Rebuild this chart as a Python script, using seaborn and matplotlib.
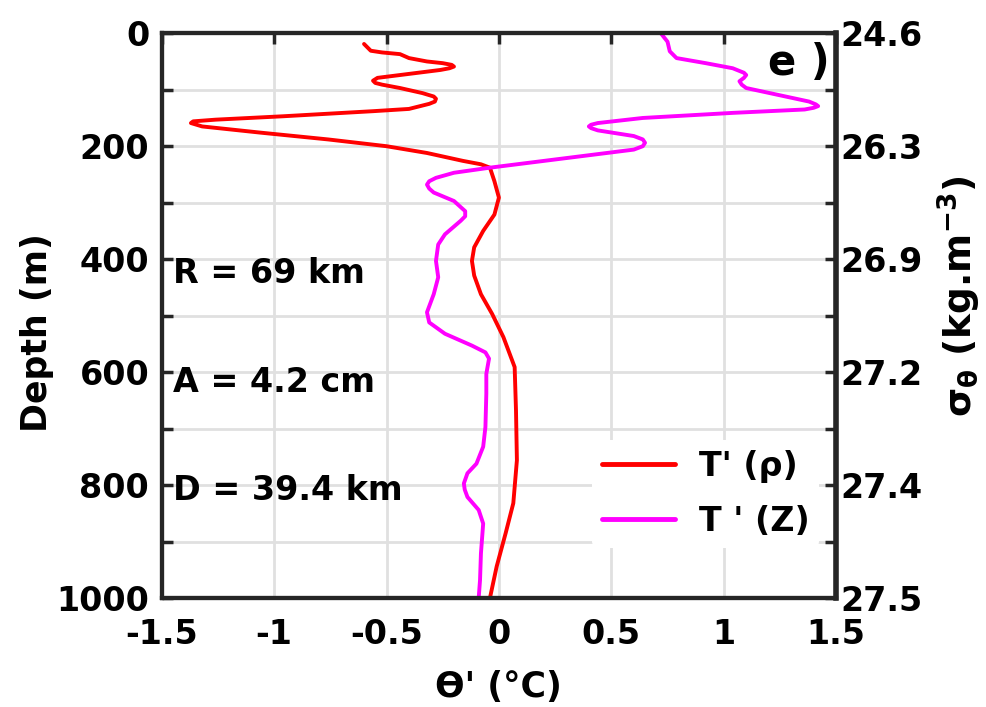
import numpy as np
import pandas as pd
import matplotlib
matplotlib.use('Agg')
import matplotlib.pyplot as plt
import seaborn as sns

# Profiles (temperature anomaly vs depth)
depth_rho = [19, 31, 34, 37, 44, 50, 53, 56, 59, 62, 65, 74, 79, 84, 88, 91,
             97, 106, 112, 116, 121, 125, 134, 138, 147, 153, 156, 159, 165,
             176, 188, 200, 212, 226, 232, 238, 262, 291, 321, 350, 379, 403,
             429, 462, 497, 538, 591, 668, 756, 832, 885, 944, 1000]
temp_rho = [-0.60, -0.57, -0.52, -0.44, -0.40, -0.32, -0.25, -0.21, -0.20,
            -0.22, -0.26, -0.44, -0.54, -0.56, -0.55, -0.52, -0.44, -0.34,
            -0.29, -0.28, -0.285, -0.31, -0.40, -0.56, -0.96, -1.26, -1.36,
            -1.37, -1.32, -1.06, -0.76, -0.50, -0.32, -0.16, -0.08, -0.04,
            -0.02, 0.00, -0.02, -0.07, -0.11, -0.12, -0.11, -0.08, -0.03,
            0.02, 0.07, 0.076, 0.08, 0.064, 0.03, -0.01, -0.04]

depth_z = [0, 15, 32, 44, 53, 62, 70, 74, 79, 85, 91, 97, 109, 121, 126, 129,
           132, 135, 141, 150, 159, 162, 165, 168, 172, 182, 188, 194, 200,
           206, 224, 238, 247, 256, 262, 268, 275, 282, 297, 315, 324, 332,
           356, 374, 403, 432, 462, 494, 512, 532, 553, 565, 576, 603, 638,
           697, 732, 762, 779, 797, 808, 821, 844, 868, 921, 968, 1000]
temp_z = [0.72, 0.75, 0.76, 0.79, 0.92, 1.04, 1.09, 1.10, 1.09, 1.07, 1.08,
          1.10, 1.24, 1.38, 1.41, 1.42, 1.40, 1.36, 1.04, 0.64, 0.44, 0.41,
          0.40, 0.41, 0.44, 0.60, 0.64, 0.65, 0.64, 0.60, 0.24, -0.04, -0.20,
          -0.28, -0.31, -0.32, -0.31, -0.29, -0.20, -0.15, -0.15, -0.17,
          -0.24, -0.27, -0.28, -0.27, -0.29, -0.32, -0.31, -0.24, -0.12,
          -0.06, -0.044, -0.056, -0.056, -0.06, -0.07, -0.10, -0.14, -0.156,
          -0.152, -0.14, -0.09, -0.07, -0.08, -0.084, -0.09]

depth_ticks = [0, 200, 400, 600, 800, 1000]
sigma_labels = ['24.6', '26.3', '26.9', '27.2', '27.4', '27.5']
x_ticks = [-1.5, -1, -0.5, 0, 0.5, 1, 1.5]
x_labels = ['-1.5', '-1', '-0.5', '0', '0.5', '1', '1.5']

df = pd.concat([
    pd.DataFrame({'temp': temp_rho, 'depth': depth_rho, 'series': "T' (ρ)"}),
    pd.DataFrame({'temp': temp_z, 'depth': depth_z, 'series': "T ' (Z)"}),
])

sns.set_style('white')
plt.rcParams['font.family'] = ['DejaVu Sans']
plt.rcParams['font.weight'] = 'bold'
plt.rcParams['mathtext.default'] = 'bf'
plt.rcParams['text.color'] = 'black'
plt.rcParams['axes.labelcolor'] = 'black'

fig = plt.figure(figsize=(9.86, 7.07), dpi=100)
ax = fig.add_axes([0.164, 0.154, 0.684, 0.799])

sns.lineplot(data=df, x='temp', y='depth', hue='series', sort=False,
             estimator=None, palette=['#ff0000', '#ff00ff'], linewidth=2.8,
             ax=ax)

ax.set_xlim(-1.5, 1.5)
ax.set_ylim(1000, 0)
ax.set_xticks(x_ticks)
ax.set_xticklabels(x_labels)
ax.set_yticks(depth_ticks)
ax.set_yticks([100, 300, 500, 700, 900], minor=True)
ax.grid(True, which='both', color='#e0e0e0', linewidth=2)
ax.set_axisbelow(True)
ax.tick_params(axis='both', which='both', direction='in', length=8, width=2.5,
               labelsize=24, colors='#262626', labelcolor='black',
               top=True, pad=9)
ax.tick_params(axis='x', pad=14)
for lab in ax.get_xticklabels() + ax.get_yticklabels():
    lab.set_fontweight('bold')
for sp in ax.spines.values():
    sp.set_linewidth(3)
    sp.set_color('#262626')

ax.set_xlabel("ϴ' (°C)", fontsize=25, fontweight='bold', labelpad=14)
ax.set_ylabel('Depth (m)', fontsize=25, fontweight='bold')
ax.yaxis.set_label_coords(-0.16, 0.47)

ax2 = ax.twinx()
ax2.set_ylim(1000, 0)
ax2.set_yticks(depth_ticks)
ax2.set_yticklabels(sigma_labels)
ax2.set_yticks([100, 300, 500, 700, 900], minor=True)
ax2.tick_params(axis='y', which='both', direction='in', length=8, width=2.5,
                labelsize=24, colors='#262626', labelcolor='black', pad=3)
for lab in ax2.get_yticklabels():
    lab.set_fontweight('bold')
for sp in ax2.spines.values():
    sp.set_linewidth(3)
    sp.set_color('#262626')
ax2.spines['right'].set_linewidth(4)
ax2.set_ylabel(r'$\sigma_\theta$ (kg.m$^{-3}$)', fontsize=27,
               fontweight='bold')
ax2.yaxis.set_label_coords(1.148, 0.535)

for txt, d in [('R = 69 km', 425), ('A = 4.2 cm', 618), ('D = 39.4 km', 809)]:
    ax.text(-1.45, d, txt, fontsize=24, fontweight='bold', va='center',
            ha='left')
ax.text(1.47, 52, 'e )', fontsize=30, fontweight='bold', va='center',
        ha='right')

leg = ax.legend(loc='lower right', bbox_to_anchor=(1.0, 0.06), frameon=True,
                fontsize=24, handlelength=2.2, borderpad=0.3,
                labelspacing=0.65, handletextpad=0.7, framealpha=1)
leg.get_frame().set_edgecolor('white')
leg.get_frame().set_linewidth(0)
for line in leg.get_lines():
    line.set_linewidth(3.5)
for t in leg.get_texts():
    t.set_fontweight('bold')

fig.savefig('out.png', dpi=100)
